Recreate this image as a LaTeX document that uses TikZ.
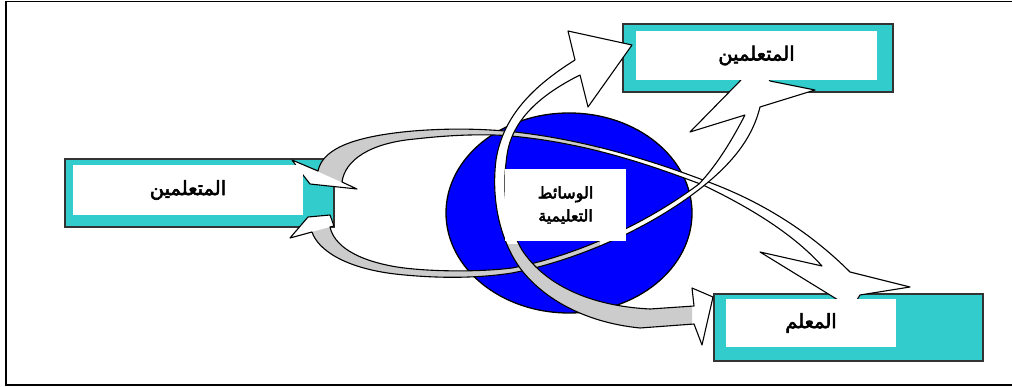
\documentclass[tikz,border=0pt]{standalone}
\usepackage{fontspec}
\newfontfamily\arabicfont[Script=Arabic,FakeBold=3]{DejaVu Sans}
\TeXXeTstate=1
\usetikzlibrary{positioning}
\definecolor{boxcyan}{RGB}{51,204,204}
\definecolor{ringgray}{RGB}{204,204,204}
\definecolor{globeblue}{RGB}{0,0,255}

% outlines of the three curved arrows (band and heads in one path)
\newcommand{\ringleft}{(318,171) .. controls (322,152) and (345,137) .. (413,131)
  .. controls (450,128) and (480,129) .. (505,131)
  .. controls (580,138) and (650,160) .. (703,180)
  .. controls (745,195) and (800,222) .. (850,272)
  -- (910,287) -- (860,295) -- (855,303) -- (843,303) -- (830,295)
  -- (760,252) -- (822,266)
  .. controls (795,236) and (755,210) .. (703,185)
  .. controls (650,165) and (585,142) .. (505,135.5)
  .. controls (480,134) and (450,135) .. (415,139)
  .. controls (370,143) and (345,160) .. (342,182)
  -- (357,189) -- (310,184) -- (303,175) -- (292,160) -- cycle}
\newcommand{\ringlow}{(312,232) .. controls (318,250) and (345,268) .. (395,274)
  .. controls (440,279) and (480,278) .. (512,273)
  .. controls (570,262) and (645,232) .. (701,188)
  .. controls (730,165) and (752,140) .. (760,107)
  -- (815,90) -- (770,81) -- (765,74) -- (746,74) -- (740,81)
  -- (690,132) -- (745,115)
  .. controls (732,140) and (717,165) .. (699,184)
  .. controls (640,228) and (570,257) .. (512,268)
  .. controls (480,272) and (430,272) .. (397,267)
  .. controls (355,260) and (334,245) .. (330,227)
  -- (334,226) -- (330,215) -- (308,217) -- (290,238) -- cycle}
\newcommand{\ringcross}{(575,60) .. controls (535,85) and (503,115) .. (496,160)
  .. controls (491,200) and (500,240) .. (520,268)
  .. controls (540,295) and (580,322) .. (640,328)
  -- (694,324) -- (702,345) -- (713,297) -- (692,288) -- (694,306) -- (650,309)
  .. controls (590,306) and (545,285) .. (522,250)
  .. controls (505,220) and (502,190) .. (507,155)
  .. controls (512,120) and (540,95) .. (580,75)
  -- (588,107) -- (632,45) -- (568,31) -- cycle}

\begin{document}
\begin{tikzpicture}[
    x=1pt, y=-1pt,
    outerbox/.style={rectangle, draw=black!80, line width=1.2pt,
                     fill=boxcyan, inner sep=0pt},
    innerbox/.style={rectangle, fill=white, inner sep=0pt, align=center,
                     font=\arabicfont\fontsize{19.5}{21}\selectfont},
    medialabel/.style={innerbox, font=\arabicfont\fontsize{16}{23}\selectfont},
    ring/.style={draw=black, line width=1.1pt, line join=round}
  ]
  \useasboundingbox (0,0) rectangle (1012,387);
  \draw[line width=1.5pt] (1020,1.5) -- (6,1.5) -- (6,385) -- (1020,385);

  % cyan frames of the three boxes
  \node[outerbox, minimum width=269pt, minimum height=68pt] (learnersL) at (199.5,193) {};
  \node[outerbox, minimum width=270pt, minimum height=68pt] (learnersR) at (758,58) {};
  \node[outerbox, minimum width=269pt, minimum height=67pt] (teacher) at (848.5,327.5) {};

  % globe
  \draw[fill=globeblue, line width=1.3pt] (569,213) ellipse [x radius=123, y radius=100];

  % orbit arrows
  \fill[white] \ringleft;
  \begin{scope}
    \clip (280,154.6) -- (380,199.3) -- (600,199.3) -- (600,90) -- (280,90) -- cycle;
    \fill[ringgray] \ringleft;
  \end{scope}
  \draw[ring] \ringleft;

  \fill[white] \ringlow;
  \begin{scope}
    \clip (280,240.7) -- (380,213.4) -- (600,213.4) -- (600,330) -- (280,330) -- cycle;
    \fill[ringgray] \ringlow;
  \end{scope}
  \draw[ring] \ringlow;

  \fill[white] \ringcross;
  \begin{scope}
    \clip (0,245) rectangle (692,387);
    \fill[ringgray] \ringcross;
  \end{scope}
  \draw[ring] \ringcross;

  % labels
  \node[innerbox, minimum width=230pt, minimum height=50pt] (learnersLtext) at (188,190)
    {\beginR المتعلمين\endR};
  \node[innerbox, minimum width=241pt, minimum height=49pt] (learnersRtext) at (756.5,55.5)
    {\beginR المتعلمين\endR};
  \node[innerbox, minimum width=170pt, minimum height=48pt] (teachertext) at (811,323)
    {\beginR المعلم\endR};
  \node[medialabel, minimum width=121pt, minimum height=72pt] (media) at (565.5,205)
    {\beginR الوسائط\endR\\\beginR التعليمية\endR};
\end{tikzpicture}
\end{document}
